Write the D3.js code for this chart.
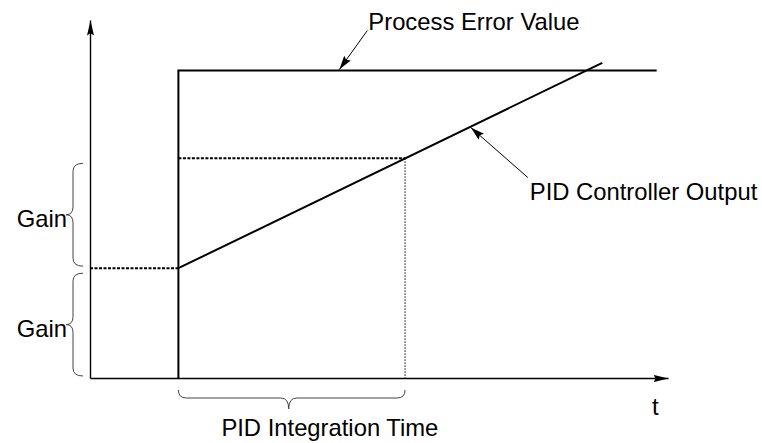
<!DOCTYPE html>
<html>
<head>
<meta charset="utf-8">
<script src="https://cdn.jsdelivr.net/npm/d3@7"></script>
<style>
  body { margin: 0; background: #fff; }
  text { font-family: "Liberation Sans", Arial, sans-serif; font-size: 23.8px; fill: #000; }
</style>
</head>
<body>
<div id="chart"></div>
<script>
// time axis in units of the integration time, value axis in units of the gain
const tMax = 2.55, vMax = 3.26;

// process error: a step that jumps at t = 0.39
const errorT = [0.39, 0.39, 2.5];
const errorV = [0, 2.8, 2.8];

// PID output: jumps by one gain, then ramps one gain per integration time
const outputT = [0.39, 2.26];
const outputV = [1, 2.87];

const stepTime = 0.39, integrationTime = 1.0;
const gainLevels = [0, 1, 2];

// dotted guide lines [t1, v1, t2, v2]
const guides = [
  [0, 1, 0.39, 1, "h"],
  [0.39, 2, 1.39, 2, "h"],
  [1.39, 2, 1.39, 0, "v"]
];

const labelError = "Process Error Value";
const labelOutput = "PID Controller Output";
const labelGain = "Gain";
const labelTime = "PID Integration Time";
const labelT = "t";

// where the callout arrows touch the curves
const errorPoint = [1.1, 2.8];
const outputPoint = [1.68, 2.29];

const width = 762, height = 443;
const svg = d3.select("#chart").append("svg")
  .attr("width", width).attr("height", height);

const x = d3.scaleLinear().domain([0, tMax]).range([90, 668]);
const y = d3.scaleLinear().domain([0, vMax]).range([378, 20]);

const defs = svg.append("defs");
function marker(id, len, w) {
  defs.append("marker")
    .attr("id", id)
    .attr("markerUnits", "userSpaceOnUse")
    .attr("viewBox", `${-len} ${-w} ${len + 1} ${2 * w}`)
    .attr("refX", 0).attr("refY", 0)
    .attr("markerWidth", len + 1).attr("markerHeight", 2 * w)
    .attr("orient", "auto")
    .append("path")
    .attr("d", `M0,0L${-len},${-w / 2}L${-len * 0.85},0L${-len},${w / 2}Z`)
    .attr("fill", "#000");
}
marker("axisHead", 15, 7);
marker("calloutHead", 14, 8);

// axes, no ticks, arrow at the far end
const xAxis = svg.append("g")
  .attr("transform", `translate(0,${y(0)})`)
  .call(d3.axisBottom(x).tickValues([]).tickSizeOuter(0));
const yAxis = svg.append("g")
  .attr("transform", `translate(${x(0)},0)`)
  .call(d3.axisLeft(y).tickValues([]).tickSizeOuter(0));
[xAxis, yAxis].forEach(g => g.select(".domain")
  .attr("stroke", "#000").attr("stroke-width", 1.4)
  .attr("marker-end", "url(#axisHead)"));

// dotted guides
guides.forEach(g => {
  svg.append("line")
    .attr("x1", x(g[0])).attr("y1", y(g[1]))
    .attr("x2", x(g[2])).attr("y2", y(g[3]))
    .attr("stroke", "#000")
    .attr("stroke-width", g[4] === "h" ? 2 : 1)
    .attr("stroke-dasharray", g[4] === "h" ? "3,1.5" : "1.5,1.5");
});

const line = d3.line().x(d => x(d[0])).y(d => y(d[1]));

svg.append("path")
  .datum(d3.zip(errorT, errorV))
  .attr("d", line)
  .attr("fill", "none").attr("stroke", "#000").attr("stroke-width", 2);

svg.append("path")
  .datum(d3.zip(outputT, outputV))
  .attr("d", line)
  .attr("fill", "none").attr("stroke", "#000").attr("stroke-width", 2);

// curly braces
function braceV(xEnd, y1, y2) { // pointing left
  const xs = xEnd - 10, xt = xEnd - 17, ym = (y1 + y2) / 2, r = 8;
  return `M${xEnd},${y1}Q${xs},${y1} ${xs},${y1 + r}L${xs},${ym - r}Q${xs},${ym} ${xt},${ym}` +
    `Q${xs},${ym} ${xs},${ym + r}L${xs},${y2 - r}Q${xs},${y2} ${xEnd},${y2}`;
}
function braceH(x1, x2, yEnd) { // pointing down
  const ys = yEnd + 8, yt = yEnd + 19, xm = (x1 + x2) / 2 - 3, r = 8;
  return `M${x1},${yEnd}Q${x1},${ys} ${x1 + r},${ys}L${xm - r},${ys}Q${xm},${ys} ${xm},${yt}` +
    `Q${xm},${ys} ${xm + r},${ys}L${x2 - r},${ys}Q${x2},${ys} ${x2},${yEnd}`;
}

d3.pairs(gainLevels).forEach(([a, b]) => {
  const y1 = y(b) + 5, y2 = y(a) - 2;
  svg.append("path").attr("d", braceV(x(0) - 7, y1, y2))
    .attr("fill", "none").attr("stroke", "#444").attr("stroke-width", 1);
  svg.append("text")
    .attr("x", x(0) - 23).attr("y", (y1 + y2) / 2 + 12)
    .attr("text-anchor", "end").text(labelGain);
});

svg.append("path").attr("d", braceH(x(stepTime), x(stepTime + integrationTime), y(0) + 12))
  .attr("fill", "none").attr("stroke", "#444").attr("stroke-width", 1);
svg.append("text")
  .attr("x", x(stepTime) + 43).attr("y", 436).text(labelTime);

svg.append("text").attr("x", x(tMax) - 16).attr("y", y(0) + 37).text(labelT);

// callouts
const ep = [x(errorPoint[0]), y(errorPoint[1])];
svg.append("line")
  .attr("x1", ep[0] + 28).attr("y1", ep[1] - 40)
  .attr("x2", ep[0]).attr("y2", ep[1] - 1)
  .attr("stroke", "#000").attr("stroke-width", 1)
  .attr("marker-end", "url(#calloutHead)");
svg.append("text").attr("x", ep[0] + 29).attr("y", 30).text(labelError);

const op = [x(outputPoint[0]), y(outputPoint[1])];
svg.append("line")
  .attr("x1", op[0] + 57).attr("y1", op[1] + 51)
  .attr("x2", op[0]).attr("y2", op[1] + 1)
  .attr("stroke", "#000").attr("stroke-width", 1)
  .attr("marker-end", "url(#calloutHead)");
svg.append("text").attr("x", op[0] + 59).attr("y", 200).text(labelOutput);
</script>
</body>
</html>
